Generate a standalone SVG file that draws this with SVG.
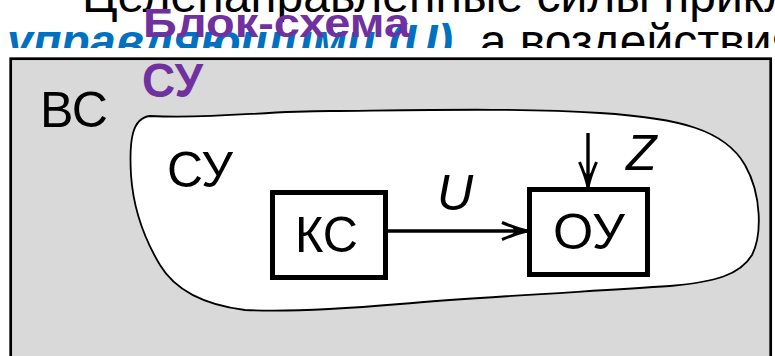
<svg xmlns="http://www.w3.org/2000/svg" width="775" height="356" viewBox="0 0 775 356">
  <style>
    .t { font-family: "Liberation Sans", Arial, sans-serif; fill: #000; }
    .lbl { font-family: "Liberation Sans", Arial, sans-serif; font-size: 50px; fill: #000; }
    .it { font-style: italic; }
    .box { fill: #fff; stroke: #000; stroke-width: 5; }
    .conn { stroke: #000; stroke-width: 3.4; fill: none; }
    .ttl { font-family: "Liberation Sans", Arial, sans-serif; font-weight: bold; fill: #7030a0; }
  </style>
  <defs>
    <marker id="arr" markerUnits="userSpaceOnUse" markerWidth="30" markerHeight="22" refX="27" refY="11" orient="auto" viewBox="0 0 30 22">
      <path d="M2,2.5 Q16,8.5 27,11 Q16,13.5 2,19.5" fill="none" stroke="#000" stroke-width="3" stroke-linejoin="miter"/>
      <path d="M12,7.6 L28,11 L12,14.4 Q17,11 12,7.6 Z" fill="#000"/>
    </marker>
  </defs>

  <rect x="0" y="0" width="775" height="356" fill="#fff"/>

  <!-- background slide text (partially hidden) -->
  <g id="slide-text">
    <text class="t" x="82" y="12" font-size="48">Целенаправленные силы прикл</text>
    <text class="t" x="7" y="58" font-size="48" font-weight="bold" font-style="italic" style="fill:#0070c0" textLength="446" lengthAdjust="spacingAndGlyphs">управляющими (U)</text>
    <text class="t" x="453" y="58" font-size="48">, а воздействия</text>
  </g>

  <!-- picture background covering lower part of the text -->
  <rect x="0" y="48" width="775" height="308" fill="#fff"/>

  <g id="vs">
    <rect x="10.7" y="58.7" width="760" height="320" fill="#d9d9d9" stroke="#000" stroke-width="2.7"/>
    <text class="lbl" x="40" y="127" textLength="68" lengthAdjust="spacingAndGlyphs">ВС</text>
  </g>

  <g id="su">
    <path d="M150,116 C220,119 260,111 330,111 C430,110 520,108 600,113 C680,118 725,130 745,165 C762,195 762,235 752,255 C740,275 715,282 670,286 C580,292 480,297 400,304 C330,310 280,312 245,310 C205,305 175,290 160,265 C142,235 133,205 131,175 C129,140 132,118 150,116 Z" fill="#fff" stroke="#000" stroke-width="1.8"/>
    <text class="lbl" x="167" y="187" textLength="66" lengthAdjust="spacingAndGlyphs">СУ</text>
  </g>

  <g id="ks">
    <rect class="box" x="272.5" y="192.5" width="113" height="85"/>
    <text class="lbl" x="295" y="252" textLength="63" lengthAdjust="spacingAndGlyphs">КС</text>
  </g>

  <g id="ou">
    <rect class="box" x="529.5" y="189.5" width="118" height="85"/>
    <text class="lbl" x="553" y="249" textLength="72" lengthAdjust="spacingAndGlyphs">ОУ</text>
  </g>

  <g id="connectors">
    <line class="conn" x1="387" y1="231" x2="527" y2="231" marker-end="url(#arr)"/>
    <text class="lbl it" x="437" y="210">U</text>
    <line class="conn" x1="588" y1="133" x2="588" y2="187" marker-end="url(#arr)"/>
    <text class="lbl it" x="626" y="170">Z</text>
  </g>

  <!-- title overlay -->
  <g id="title">
    <text class="ttl" x="143" y="37" font-size="40" textLength="267" lengthAdjust="spacingAndGlyphs">Блок-схема</text>
    <text class="ttl" x="142" y="97" font-size="48" textLength="61" lengthAdjust="spacingAndGlyphs">СУ</text>
  </g>
</svg>
